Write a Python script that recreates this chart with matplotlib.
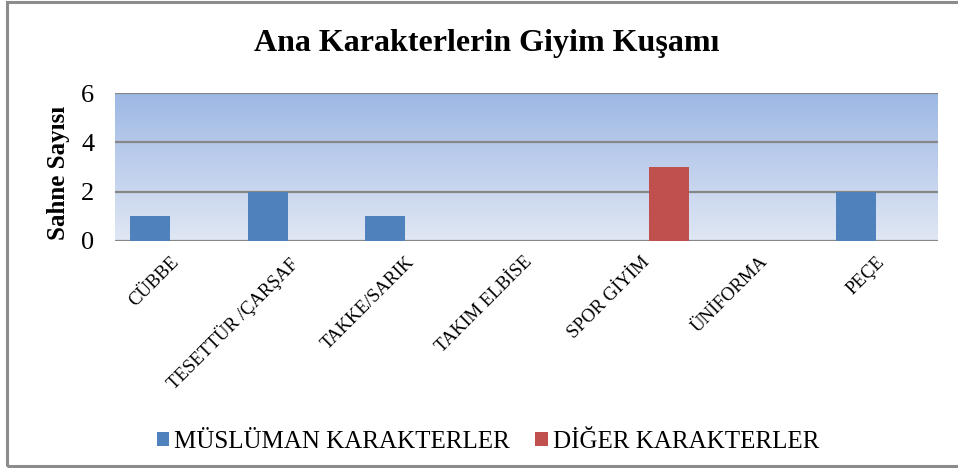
import matplotlib
matplotlib.use("Agg")
import matplotlib.pyplot as plt
import numpy as np
from matplotlib.patches import Rectangle

categories = ["CÜBBE", "TESETTÜR /ÇARŞAF", "TAKKE/SARIK", "TAKIM ELBİSE",
              "SPOR GİYİM", "ÜNİFORMA", "PEÇE"]
muslim = [1, 2, 1, 0, 0, 0, 2]
other = [0, 0, 0, 0, 3, 0, 0]
series_names = ["MÜSLÜMAN KARAKTERLER", "DİĞER KARAKTERLER"]
yticks = [0, 2, 4, 6]

plt.rcParams['font.family'] = ['Liberation Serif', 'DejaVu Serif']

fig = plt.figure(figsize=(9.58, 4.68), dpi=100)
W, H = 958, 468
ax = fig.add_axes([115 / W, 1 - 241 / H, (938 - 115) / W, (241 - 93) / H])

n = len(categories)
x = np.arange(n)
# gradient background
top = np.array([157, 184, 228]) / 255
bot = np.array([224, 231, 244]) / 255
t = np.linspace(0, 1, 256)[:, None]
grad = (top[None, :] * (1 - t) + bot[None, :] * t)[:, None, :]
ax.imshow(grad, extent=[-0.5, n - 0.5, 0, 6], aspect='auto', origin='upper', zorder=0)

bw = 0.34
ax.bar(x - 0.2, muslim, bw, color='#4F81BD', zorder=3, label=series_names[0])
ax.bar(x + 0.21, other, bw, color='#C0504D', zorder=3, label=series_names[1])

ax.set_xlim(-0.5, n - 0.5)
ax.set_ylim(0, 6)
ax.set_yticks(yticks)
ax.set_yticklabels([str(v) for v in yticks], fontsize=19)
for v in yticks:
    ax.axhline(v, color='#878787', lw=1.6, zorder=2)
for s in ax.spines.values():
    s.set_visible(False)
ax.tick_params(axis='both', length=0)
ax.tick_params(axis='y', pad=15)
ax.set_xticks(x)
ax.set_xticklabels(categories, rotation=45, ha='right', rotation_mode='anchor', fontsize=13.5)
ax.tick_params(axis='x', pad=9)
for lbl in ax.get_xticklabels():
    lbl.set_transform(lbl.get_transform() + matplotlib.transforms.ScaledTranslation(-3 / 100, 0, fig.dpi_scale_trans))

ax.set_ylabel("Sahne Sayısı", fontsize=18, fontweight='bold')
ax.yaxis.set_label_coords(-45 / (938 - 115), 0.46)

fig.text(487 / W, 1 - 44 / H, "Ana Karakterlerin Giyim Kuşamı", ha='center', va='center',
         fontsize=23, fontweight='bold')

leg = fig.legend(loc='center', bbox_to_anchor=(488 / W, 1 - 442 / H), ncol=2, frameon=False,
                 fontsize=18, handlelength=0.5, handleheight=0.5, handletextpad=0.2,
                 columnspacing=1.0)

fig.patches.append(Rectangle((7 / W, 1 - 466 / H), 1.0, (466 - 2) / H, transform=fig.transFigure,
                             fill=False, edgecolor='#8C8C8C', lw=2.2))

fig.savefig("out.png", dpi=100, facecolor='white')
